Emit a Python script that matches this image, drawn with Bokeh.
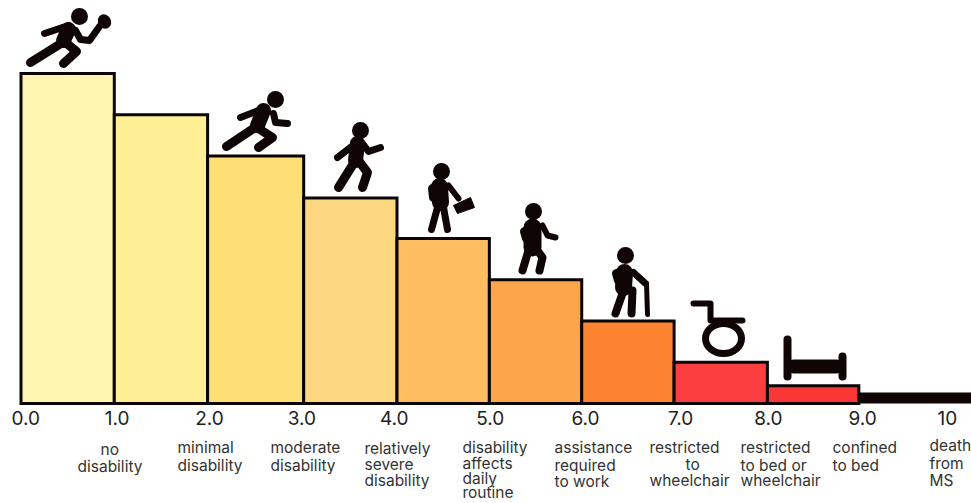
from bokeh.plotting import figure
from bokeh.models import LinearAxis, FixedTicker, ColumnDataSource
from bokeh.core.properties import value
from bokeh.embed import file_html
from bokeh.resources import INLINE

# ---- chart data ----
edss_ticks = [0.05, 1.03, 2.02, 3.01, 4.0, 5.03, 6.05, 7.07, 8.01, 9.02, 9.93]
edss_labels = ["0.0", "1.0", "2.0", "3.0", "4.0", "5.0", "6.0", "7.0", "8.0", "9.0", "10"]
step_left = [0.0, 1.0, 2.0, 3.03, 4.03, 5.02, 6.01, 7.0, 8.0, 8.98]
step_right = [1.0, 2.0, 3.03, 4.03, 5.02, 6.01, 7.0, 8.0, 8.98, 10.2]
step_height = [100.0, 87.5, 75.0, 62.3, 50.0, 37.5, 25.0, 12.5, 5.4, 3.3]
step_colors = ["#FFF5B0", "#FEEE94", "#FDDF76", "#FDD880", "#FDBD60", "#FCA54A",
               "#FC8431", "#FB3E40", "#F93836", "#100505"]
desc_lines = ["no", "disability", "minimal", "disability", "moderate", "disability",
              "relatively", "severe", "disability", "disability", "affects", "daily", "routine",
              "assistance", "required", "to work", "restricted", "to", "wheelchair",
              "restricted", "to bed or", "wheelchair", "confined", "to bed",
              "death", "from", "MS"]

# ---- layout (image pixels) ----
W, H = 971, 503
X0, XS, Y0, YS = 20.5, 93.3, 403.0, 3.3
def dx(px): return (px - X0) / XS
def dy(py): return (Y0 - py) / YS

desc_px = [(100, 449), (77, 466), (177, 447), (177, 465), (270, 447), (270, 465),
           (364, 448), (364, 464), (364, 480), (462, 447), (462, 463), (462, 478), (462, 492),
           (554, 447), (554, 465), (554, 481), (649, 447), (685, 464), (649, 480),
           (740, 447), (740, 465), (740, 480), (832, 447), (832, 465),
           (929, 445), (929, 463), (929, 480)]

heads = [(79, 16), (275, 99), (360, 130), (441, 171), (533, 211), (625, 255)]
strokes = [
    # runner with racket
    (15, [(68, 29), (63, 40)]), (7, [(44, 33), (68, 25)]),
    (7, [(75, 30), (80, 39), (89, 40), (99, 26)]),
    (9, [(62, 42), (30, 62)]), (9, [(65, 42), (76, 51), (63, 63)]),
    # runner
    (15, [(263, 110), (257, 125)]), (7, [(240, 117), (263, 108)]),
    (7, [(273, 113), (275, 122), (287, 123)]),
    (9, [(253, 128), (226, 146)]), (9, [(258, 128), (272, 137), (258, 147)]),
    # walker
    (15, [(357, 143), (355, 160)]), (7, [(355, 143), (337, 157)]),
    (7, [(362, 143), (368, 151), (380, 147)]),
    (9, [(353, 163), (338, 187)]), (9, [(358, 160), (367, 172), (362, 187)]),
    # briefcase man
    (17, [(439, 186), (440, 202)]), (9, [(432, 188), (433, 197)]),
    (6, [(448, 185), (458, 198)]),
    (7, [(437, 207), (431, 229)]), (7, [(443, 207), (447, 229)]),
    # stooped walker
    (18, [(532, 227), (532, 247)]), (9, [(524, 231), (526, 238)]),
    (6, [(542, 225), (547, 235), (555, 237)]),
    (8, [(528, 250), (522, 270)]), (8, [(537, 250), (542, 257), (539, 270)]),
    # walker with cane
    (17, [(624, 272), (623, 287)]), (9, [(616, 273), (618, 280)]),
    (7, [(633, 272), (645, 283)]), (5, [(646, 283), (647, 314)]),
    (8, [(623, 290), (615, 313)]), (8, [(632, 290), (631, 313)]),
    # wheelchair
    (6, [(693, 303), (710, 303), (710, 320), (742, 320)]),
    # bed
    (8, [(787, 339), (787, 376)]), (8, [(842, 356), (842, 376)]),
    (14, [(793, 366), (836, 366)]),
]
briefcase = [(453, 205), (470, 197), (474, 207), (457, 213)]
INK = "#100505"

p = figure(width=W, height=H, output_backend="svg", toolbar_location=None,
           x_range=(dx(0), dx(W)), y_range=(dy(H), dy(0)),
           min_border=0, outline_line_color=None, background_fill_color="white")
p.styles = {"position": "absolute", "left": "0", "top": "0"}
p.grid.visible = False
p.xaxis.visible = False
p.yaxis.visible = False

for i in range(len(step_height)):
    last = i == len(step_height) - 1
    p.quad(left=[step_left[i]], right=[step_right[i]], bottom=[0], top=[step_height[i]],
           fill_color=step_colors[i], line_color=None if last else "#0b0505",
           line_width=3, line_join="miter")

axis = LinearAxis(ticker=FixedTicker(ticks=edss_ticks),
                  major_label_overrides=dict(zip(edss_ticks, edss_labels)),
                  fixed_location=0, axis_line_color=None,
                  major_tick_line_color=None, minor_tick_line_color=None,
                  major_label_standoff=1,
                  major_label_text_font="Inter", major_label_text_font_size="19px",
                  major_label_text_color="#222222")
p.add_layout(axis, "below")

src = ColumnDataSource(dict(x=[dx(a) for a, _ in desc_px], y=[dy(b) for _, b in desc_px], t=desc_lines))
p.text("x", "y", text="t", source=src, text_font=value("Inter"), text_font_size="15.5px",
       text_color="#333333", text_baseline="middle", text_align="left")

p.multi_line(xs=[[dx(a) for a, _ in pts] for _, pts in strokes],
             ys=[[dy(b) for _, b in pts] for _, pts in strokes],
             line_width=[w for w, _ in strokes], line_color=INK,
             line_cap="round", line_join="round")
p.scatter([dx(a) for a, _ in heads], [dy(b) for _, b in heads], size=17, marker="circle",
          fill_color=INK, line_color=None)
p.patch([dx(a) for a, _ in briefcase], [dy(b) for _, b in briefcase], fill_color=INK, line_color=INK, line_width=1)
p.ellipse([dx(104)], [dy(21)], width=[13 / XS], height=[15 / YS], angle=0.5,
          fill_color=INK, line_color=None)
p.ellipse([dx(723)], [dy(338)], width=[36 / XS], height=[30 / YS],
          fill_color=None, line_color=INK, line_width=7)

open("out.html", "w").write(file_html(p, INLINE))
